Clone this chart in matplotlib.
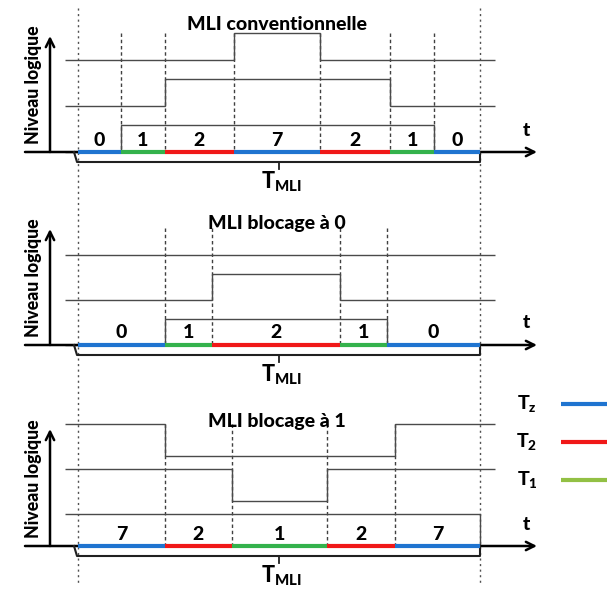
'''
Chronogrammes MLI : conventionnelle, blocage a 0, blocage a 1
'''
import matplotlib
matplotlib.use('Agg')
import matplotlib.pyplot as plt

# ---------------------------------
# data: etats successifs et instants de commutation (en fraction de T_MLI)
TITLES      = ['MLI conventionnelle', 'MLI blocage à 0', 'MLI blocage à 1']
STATES_CONV = [0, 1, 2, 7, 2, 1, 0]
EDGES_CONV  = [0.0, 0.107, 0.216, 0.388, 0.602, 0.776, 0.886, 1.0]
STATES_BLK0 = [0, 1, 2, 1, 0]
EDGES_BLK0  = [0.0, 0.216, 0.333, 0.652, 0.769, 1.0]
STATES_BLK1 = [7, 2, 1, 2, 7]
EDGES_BLK1  = [0.0, 0.216, 0.383, 0.619, 0.789, 1.0]

# bits (bas, milieu, haut) de chaque etat
STATE_BITS  = {0: (0, 0, 0), 1: (1, 0, 0), 2: (1, 1, 0), 7: (1, 1, 1)}
LEGEND_TXT  = ['T$_z$', 'T$_2$', 'T$_1$']
# ---------------------------------
class Style:
    '''
    Layout, in pixels of the 607x594 figure
    '''
    blue      = '#1f74d0'
    red       = '#f01818'
    green     = '#34b24c'
    lgreen    = '#92c044'
    sig_col   = '#4a4a4a'
    dash_col  = '#404040'
    x0_px     = 78
    t_px      = 402
    baselines = [152, 345, 546]
    spacing   = [46, 45, 45]
    amplitude = [27, 26, 32]
    tops      = [36, 229, 429]
    dash_tops = [33, 228, 424]
    title_y   = [25, 224, 422]
    fontsize  = 14
    weight    = 'black'
# ---------------------------------
def _t(px : float) -> float:
    return (px - Style.x0_px) / Style.t_px
# ---------------------------------
def _color(state : int) -> str:
    if state in (0, 7):
        return Style.blue
    if state == 2:
        return Style.red
    return Style.green
# ------------------------------------
def _plot_panel(ax, ipanel : int, states : list[int], edges : list[float]) -> None:
    base = Style.baselines[ipanel]
    spac = Style.spacing[ipanel]
    amp  = Style.amplitude[ipanel]
    fs   = Style.fontsize
    fw   = Style.weight

    # axes
    ax.annotate('', xy=(_t(537), base), xytext=(_t(25), base),
                arrowprops=dict(arrowstyle='->,head_length=0.6,head_width=0.3', lw=1.8, color='black',
                                shrinkA=0, shrinkB=0), zorder=3)
    ax.annotate('', xy=(_t(50), Style.tops[ipanel]), xytext=(_t(50), base),
                arrowprops=dict(arrowstyle='->,head_length=0.6,head_width=0.3', lw=1.8, color='black',
                                shrinkA=0, shrinkB=0), zorder=3)
    ax.text(_t(33), base - 67, 'Niveau logique', rotation=90, ha='center', va='center',
            fontsize=fs - 1.2, fontweight=fw)
    ax.text(_t(526), base - 22, 't', ha='center', va='center', fontsize=fs, fontweight=fw)
    ax.text(0.495, Style.title_y[ipanel], TITLES[ipanel], ha='center', va='center',
            fontsize=fs, fontweight=fw)

    # signaux de commande
    x_ext = [_t(65)] + edges + [_t(495)]
    for ibit in range(3):
        level = base - ibit * spac
        vals  = [level - STATE_BITS[st][ibit] * amp for st in states]
        last  = vals[-1] if ibit > 0 else level
        if ibit == 0:
            ax.stairs([vals[0]] + vals, [x_ext[0]] + edges, baseline=None,
                      color=Style.sig_col, lw=1.0, zorder=2)
            ax.plot([edges[-1], edges[-1]], [vals[-1], last], color=Style.sig_col, lw=1.0, zorder=2)
        else:
            ax.stairs([vals[0]] + vals + [last], x_ext, baseline=None,
                      color=Style.sig_col, lw=1.0, zorder=2)

    # commutations
    for edge in edges[1:-1]:
        ax.plot([edge, edge], [Style.dash_tops[ipanel], base], color=Style.dash_col,
                lw=1.0, ls=(0, (2.5, 2)), zorder=1)

    # sequence des etats
    for st, t_a, t_b in zip(states, edges[:-1], edges[1:]):
        ax.plot([t_a, t_b], [base, base], color=_color(st), lw=3.0, solid_capstyle='butt', zorder=4)
        ax.text((t_a + t_b) / 2, base - 12, str(st), ha='center', va='center',
                fontsize=fs, fontweight=fw)

    # accolade T_MLI
    ax.plot([_t(74), _t(77), 1.0, 1.0], [base, base + 10, base + 10, base],
            color='#202020', lw=1.5, zorder=3)
    ax.plot([0.5, 0.5], [base + 10, base + 17], color='#202020', lw=1.3, zorder=3)
    ax.text(0.505, base + 30, r'T$_{\mathbf{MLI}}$', ha='center', va='center',
            fontsize=fs + 1.5, fontweight=fw)
# ------------------------------------
def _plot_legend(ax) -> None:
    colors = [Style.blue, Style.red, Style.lgreen]
    l_y    = [404, 442, 480]
    for txt, col, y_px in zip(LEGEND_TXT, colors, l_y):
        ax.text(_t(527), y_px, txt, ha='center', va='center', fontsize=Style.fontsize,
                fontweight=Style.weight)
        ax.plot([_t(561), _t(607)], [y_px, y_px], color=col, lw=3.0, solid_capstyle='butt')
# ------------------------------------
def main():
    '''
    start here
    '''
    plt.rcParams['font.family']      = ['Lato', 'DejaVu Sans']
    plt.rcParams['mathtext.fontset'] = 'custom'
    plt.rcParams['mathtext.rm']      = 'Lato:black'
    plt.rcParams['mathtext.bf']      = 'Lato:black'
    plt.rcParams['mathtext.it']      = 'Lato:black'

    fig = plt.figure(figsize=(6.07, 5.94), dpi=100)
    ax  = fig.add_axes([0, 0, 1, 1])
    ax.set_xlim(_t(0), _t(607))
    ax.set_ylim(594, 0)
    ax.axis('off')

    # limites de la periode, sur toute la hauteur
    for edge in (0.0, 1.0):
        ax.plot([edge, edge], [8, 585], color='#505050', lw=1.0, ls=(0, (1.5, 2.5)), zorder=1)

    _plot_panel(ax, 0, STATES_CONV, EDGES_CONV)
    _plot_panel(ax, 1, STATES_BLK0, EDGES_BLK0)
    _plot_panel(ax, 2, STATES_BLK1, EDGES_BLK1)
    _plot_legend(ax)

    fig.savefig('out.png', dpi=100, facecolor='white')
# ------------------------------------
if __name__ == '__main__':
    main()
